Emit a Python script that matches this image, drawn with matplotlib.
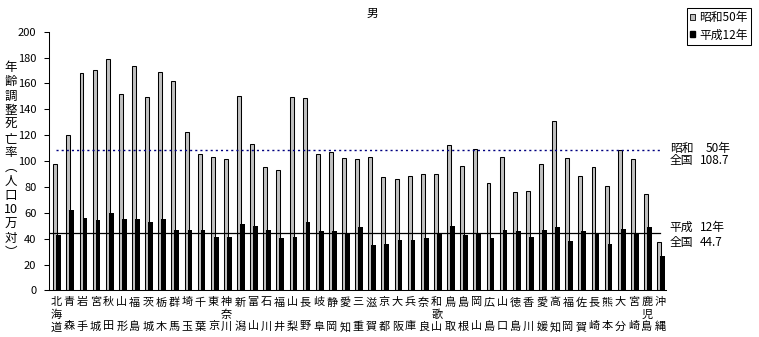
import matplotlib
matplotlib.use("Agg")
import matplotlib.pyplot as plt
import numpy as np
from matplotlib.patches import Patch

plt.rcParams['font.family'] = ['Noto Sans CJK JP', 'DejaVu Sans']

# 都道府県別 年齢調整死亡率（男）
prefs = ["北海道", "青森", "岩手", "宮城", "秋田", "山形", "福島", "茨城", "栃木", "群馬",
         "埼玉", "千葉", "東京", "神奈川", "新潟", "富山", "石川", "福井", "山梨", "長野",
         "岐阜", "静岡", "愛知", "三重", "滋賀", "京都", "大阪", "兵庫", "奈良", "和歌山",
         "鳥取", "島根", "岡山", "広島", "山口", "徳島", "香川", "愛媛", "高知", "福岡",
         "佐賀", "長崎", "熊本", "大分", "宮崎", "鹿児島", "沖縄"]

s50 = [97.4, 119.9, 167.9, 170.2, 178.7, 151.6, 173.3, 149.3, 168.6, 161.7,
       122.2, 105.2, 102.9, 101.3, 150.1, 112.9, 95.1, 92.8, 149.3, 148.5,
       105.2, 106.7, 102.1, 101.3, 102.9, 87.4, 85.8, 88.2, 89.7, 89.7,
       112.1, 95.9, 109.1, 82.7, 102.9, 75.8, 76.5, 97.4, 130.7, 102.1,
       88.2, 95.1, 80.4, 108.3, 101.3, 74.2, 37.1]

h12 = [42.7, 62.1, 56.1, 54.3, 59.5, 54.9, 54.9, 52.6, 55.6, 47.1,
       46.4, 46.4, 41.7, 41.4, 51.2, 49.9, 47.1, 40.9, 41.7, 53.3,
       45.6, 45.6, 43.3, 49.4, 34.8, 36.3, 39.4, 39.4, 40.9, 44.8,
       50.2, 42.5, 44.8, 40.2, 46.4, 45.6, 41.7, 47.1, 49.4, 38.6,
       45.6, 44.8, 36.3, 47.9, 44.8, 48.7, 27.0]

avg50 = 108.7
avg12 = 44.7

# 縦書きラベル: 先頭・中・末尾の文字を縦に並べる
labels = [p[0] + "\n" + (p[1] if len(p) == 3 else "") + "\n" + p[-1] for p in prefs]

x = np.arange(len(prefs))

fig = plt.figure(figsize=(7.59, 3.37), dpi=100)
ax = fig.add_axes([0.0652, 0.138, 0.8129, 0.768])

ax.bar(x - 0.06, s50, width=0.30, color="#c0c0c0", edgecolor="black", linewidth=0.75, zorder=2)
ax.bar(x + 0.20, h12, width=0.36, color="black", linewidth=0, zorder=3)

# 全国値の線
ax.plot([0, len(prefs) - 1], [avg50, avg50], color="#000080", lw=1,
        linestyle=(0, (1.5, 2.2)), zorder=4)
ax.plot([-0.5, len(prefs) - 1], [avg12, avg12], color="black", lw=0.9, zorder=4)

def note(y, head1, val1, head2, val2, dy1, dy2, dx_val1):
    kw = dict(xycoords="data", textcoords="offset points", fontsize=8.5,
              va="center", ha="left", annotation_clip=False)
    ax.annotate(head1, xy=(len(prefs) - 1, y), xytext=(7, dy1), **kw)
    ax.annotate(val1, xy=(len(prefs) - 1, y), xytext=(dx_val1, dy1), **kw)
    ax.annotate(head2, xy=(len(prefs) - 1, y), xytext=(7, dy2), **kw)
    ax.annotate(val2, xy=(len(prefs) - 1, y), xytext=(28.5, dy2), **kw)

note(avg50, "昭和", "50年", "全国", f"{avg50}", 1.3, -7.6, 33)
note(avg12, "平成", "12年", "全国", f"{avg12}", 3.9, -7.0, 28.5)

ax.set_xlim(-0.5, len(prefs) - 0.5)
ax.set_ylim(0, 200)
ax.set_yticks(np.arange(0, 201, 20))
ax.set_xticks(x)
ax.set_xticklabels(labels, fontsize=8, linespacing=1.25)
ax.tick_params(axis="x", length=0, pad=5)
ax.tick_params(axis="y", direction="out", length=3.5, width=0.75, pad=6, labelsize=8)

for side in ["top", "right"]:
    ax.spines[side].set_visible(False)
for side in ["left", "bottom"]:
    ax.spines[side].set_linewidth(0.75)

fig.text(372 / 759, 1 - 13 / 337, "男", ha="center", va="center", fontsize=8.5)

ylab = "\n".join(["年", "齢", "調", "整", "死", "亡", "率", "︵", "人", "口", "10", "万", "対", "︶"])
fig.text(11 / 759, 1 - 160 / 337, ylab, ha="center", va="center", fontsize=9, linespacing=1.12)

handles = [Patch(facecolor="#c0c0c0", edgecolor="black", linewidth=0.6),
           Patch(facecolor="black", edgecolor="black")]
leg = fig.legend(handles, ["昭和50年", "平成12年"], loc="upper right",
                 bbox_to_anchor=(751 / 759, 1 - 7.7 / 337), fontsize=8.5,
                 frameon=True, fancybox=False, edgecolor="black", framealpha=1,
                 handlelength=0.45, handleheight=0.45, handletextpad=0.3,
                 borderpad=0.3, labelspacing=0.35, borderaxespad=0)
leg.get_frame().set_linewidth(0.75)

fig.savefig("out.png", dpi=100)
